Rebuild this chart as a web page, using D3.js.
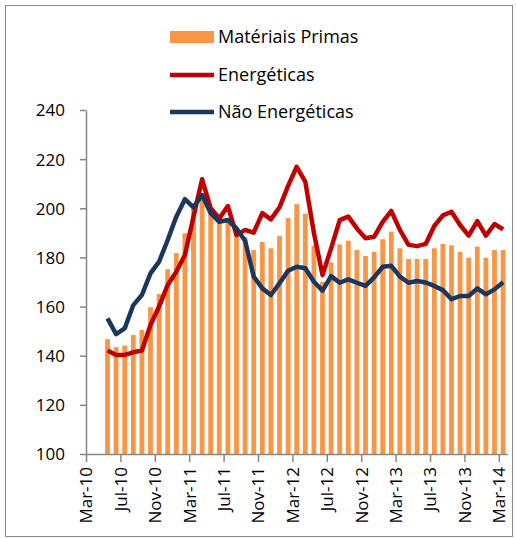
<!DOCTYPE html>
<html>
<head>
<meta charset="utf-8">
<script src="https://cdn.jsdelivr.net/npm/d3@7"></script>
<style>
  body { margin: 0; background: #fff; }
  text { font-family: "Open Sans", sans-serif; fill: #000; }
</style>
</head>
<body>
<div id="chart"></div>
<script>
var width = 516;
var height = 539;

// axis months (Mar-10 .. Mar-14), one slot each
var axisMonths = ["Mar-10","Apr-10","May-10","Jun-10","Jul-10","Aug-10","Sep-10","Oct-10","Nov-10","Dec-10",
    "Jan-11","Feb-11","Mar-11","Apr-11","May-11","Jun-11","Jul-11","Aug-11","Sep-11","Oct-11","Nov-11","Dec-11",
    "Jan-12","Feb-12","Mar-12","Apr-12","May-12","Jun-12","Jul-12","Aug-12","Sep-12","Oct-12","Nov-12","Dec-12",
    "Jan-13","Feb-13","Mar-13","Apr-13","May-13","Jun-13","Jul-13","Aug-13","Sep-13","Oct-13","Nov-13","Dec-13",
    "Jan-14","Feb-14","Mar-14"];

// data months (May-10 .. Mar-14)
var months = axisMonths.slice(2);

var materiais = [146.7,143.5,144.1,148.4,150.5,159.7,165.1,175.2,181.8,189.8,202,206,198,194.5,194.5,
    188.7,188.2,183,186.3,183.7,188.7,196,201.7,197.8,184.8,170.1,178,185.3,186.8,183,180.6,182.3,
    187.4,190.5,183.7,179.4,179.4,179.4,183.7,185.5,184.9,182.3,179.9,184.4,179.9,183,183];

var energeticas = [142.1,140.3,140.3,141.4,142.1,152.5,160,168.8,174.2,181,196.6,211.8,200,195.9,200.9,
    189.1,191.2,190.1,198,195.5,200.4,209.1,216.9,210.8,190,172.8,183.7,195.2,196.6,191.8,187.8,188.4,
    194.5,198.9,191.2,185.1,184.6,185.5,192.8,197.1,198.6,193.2,188.9,194.8,188.9,193.6,191.4];

var naoEnergeticas = [155.2,148.8,151.1,160.6,164.7,173.5,178.3,187.1,196.6,203.7,200.4,205.4,198,194.5,195.2,
    191.8,186.8,172.2,167.4,164.7,169.5,174.6,176.2,175.6,170.1,166.5,172.4,169.7,171.1,169.7,168.4,171.9,
    176.2,176.6,172.2,169.7,170.4,169.8,168.4,166.7,163,164.3,164.3,167.4,165,167,169.9];

var yTicks = [100,120,140,160,180,200,220,240];
var xTickLabels = ["Mar-10","Jul-10","Nov-10","Mar-11","Jul-11","Nov-11","Mar-12","Jul-12","Nov-12","Mar-13","Jul-13","Nov-13","Mar-14"];

var seriesNames = ["Matériais Primas", "Energéticas", "Não Energéticas"];
var colors = ["#F79646", "#C00000", "#1B375E"];

var leftX = 86, rightX = 507.4, topY = 110, bottomY = 454;

var svg = d3.select("#chart").append("svg")
    .attr("width", width)
    .attr("height", height);

svg.append("rect")
    .attr("x", 5.5).attr("y", 5.5)
    .attr("width", 507).attr("height", 531)
    .attr("fill", "none").attr("stroke", "#8a8a8a");

var xScale = d3.scaleLinear()
    .domain([0, axisMonths.length])
    .range([leftX, rightX]);

var yScale = d3.scaleLinear()
    .domain([100, 240])
    .range([bottomY, topY]);

function xPos(d, i) {
    return xScale(axisMonths.indexOf(months[i]) + 0.5);
}

var slot = xScale(1) - xScale(0);
var barW = slot * 0.56;

// bars
svg.append("g").selectAll("rect")
    .data(materiais).enter().append("rect")
    .attr("x", function (d, i) { return xPos(d, i) - barW / 2; })
    .attr("y", function (d) { return yScale(d); })
    .attr("width", barW)
    .attr("height", function (d) { return yScale(100) - yScale(d); })
    .attr("fill", colors[0]);

// lines
var line = d3.line()
    .x(function (d, i) { return xPos(d, i); })
    .y(function (d) { return yScale(d); });

[energeticas, naoEnergeticas].forEach(function (s, k) {
    svg.append("path")
        .datum(s)
        .attr("d", line)
        .attr("fill", "none")
        .attr("stroke", colors[k + 1])
        .attr("stroke-width", 4.5)
        .attr("stroke-linejoin", "round");
});

// y axis
var yAxis = svg.append("g")
    .attr("transform", "translate(" + leftX + ",0)")
    .call(d3.axisLeft(yScale).tickValues(yTicks).tickSize(6).tickPadding(15).tickSizeOuter(0));
yAxis.select(".domain").attr("stroke", "#868686").attr("stroke-width", 1.5);
yAxis.selectAll(".tick line").attr("stroke", "#868686").attr("stroke-width", 1.5);
yAxis.selectAll("text").style("font-size", "17px").attr("dy", "0.35em");

// x axis
var xAxis = svg.append("g")
    .attr("transform", "translate(0," + bottomY + ")")
    .call(d3.axisBottom(xScale)
        .tickValues(xTickLabels.map(function (l) { return axisMonths.indexOf(l); }))
        .tickFormat(function (i) { return axisMonths[i]; })
        .tickSize(8).tickSizeOuter(0));
xAxis.select(".domain").attr("stroke", "#868686").attr("stroke-width", 1.5);
xAxis.selectAll(".tick line").attr("stroke", "#868686").attr("stroke-width", 1.5);
xAxis.selectAll("text")
    .style("font-size", "17px")
    .style("text-anchor", "end")
    .attr("x", -13)
    .attr("y", 0)
    .attr("dy", "0.35em")
    .attr("transform", "rotate(-90)");

// legend
var legend = svg.append("g");
var legendY = [37, 75, 112];
legend.append("rect")
    .attr("x", 170).attr("y", legendY[0] - 6)
    .attr("width", 44).attr("height", 12)
    .attr("fill", colors[0]);
[1, 2].forEach(function (k) {
    legend.append("line")
        .attr("x1", 170).attr("x2", 214)
        .attr("y1", legendY[k]).attr("y2", legendY[k])
        .attr("stroke", colors[k]).attr("stroke-width", 4.5);
});
seriesNames.forEach(function (n, k) {
    legend.append("text")
        .attr("x", 218).attr("y", legendY[k])
        .attr("dy", "0.35em")
        .style("font-size", "18px")
        .text(n);
});
</script>
</body>
</html>
